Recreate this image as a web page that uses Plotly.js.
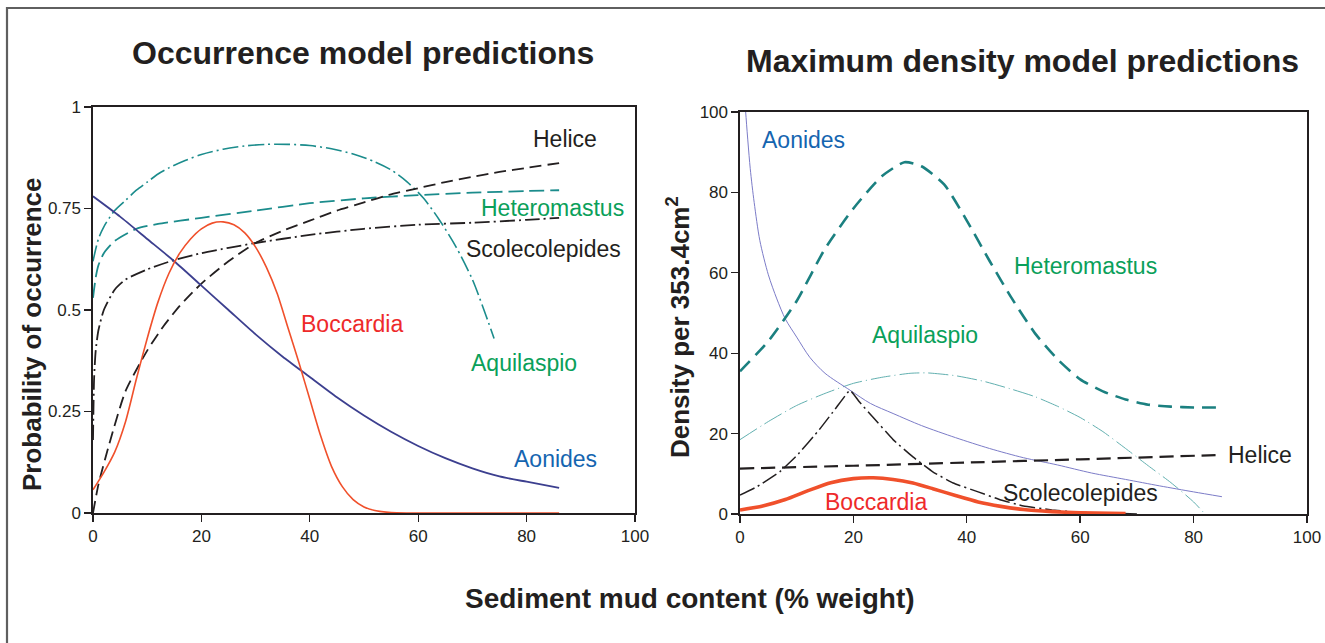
<!DOCTYPE html>
<html>
<head>
<meta charset="utf-8">
<script src="https://cdn.plot.ly/plotly-3.0.1.min.js"></script>
<style>html,body{margin:0;padding:0;background:#fff;}#chart{width:1325px;height:643px;}</style>
</head>
<body>
<div id="chart"></div>
<script>
// ---------- DATA: Occurrence model (left) ----------
const occAonidesX = [0,5,10,15,20,25,30,35,40,45,50,55,60,65,70,75,80,86];
const occAonidesY = [0.78,0.73,0.675,0.62,0.56,0.50,0.44,0.385,0.335,0.285,0.24,0.20,0.165,0.135,0.11,0.09,0.077,0.062];

const occBoccardiaX = [0,2,4,6,8,10,12,14,16,18,20,22,24,26,28,30,32,34,36,38,40,42,44,46,48,50,52,55,58,70,86];
const occBoccardiaY = [0.057,0.1,0.15,0.225,0.33,0.43,0.52,0.59,0.64,0.675,0.70,0.714,0.717,0.71,0.69,0.655,0.605,0.54,0.455,0.37,0.28,0.19,0.115,0.065,0.033,0.015,0.006,0.001,0,0,0];

const occHeliceX = [0,1,3,6,10,13,16,20,25,30,35,40,45,50,55,60,65,70,75,80,86];
const occHeliceY = [0,0.07,0.17,0.30,0.40,0.46,0.51,0.565,0.62,0.665,0.695,0.72,0.745,0.765,0.785,0.80,0.815,0.828,0.84,0.85,0.862];

const occScoleX = [0,0.2,0.5,1,2,4,6,10,15,20,25,30,40,50,60,70,80,86];
const occScoleY = [0.18,0.33,0.40,0.45,0.50,0.55,0.575,0.60,0.623,0.64,0.653,0.665,0.685,0.70,0.71,0.715,0.722,0.727];

const occHeteroX = [0,0.5,1,2,4,8,12,20,30,40,50,60,70,80,86];
const occHeteroY = [0.53,0.58,0.61,0.64,0.67,0.70,0.712,0.727,0.745,0.763,0.775,0.783,0.789,0.793,0.795];

const occAquilaX = [0,1,2,4,6,8,10,12,14,17,20,24,28,32,36,40,44,48,52,55,58,61,64,67,70,72,74];
const occAquilaY = [0.62,0.675,0.705,0.745,0.77,0.795,0.815,0.835,0.85,0.868,0.883,0.896,0.904,0.908,0.908,0.905,0.897,0.884,0.865,0.845,0.815,0.775,0.72,0.655,0.575,0.505,0.43];

// ---------- DATA: Maximum density model (right) ----------
const denAonidesX = [0.7,1,1.8,2.5,3.5,5,6.5,8,10,12.3,15,19.4,23,27,32,38,44,50,56,62,68,74,80,85];
const denAonidesY = [107,100,86,77.5,68,59.5,53.5,48.5,44,39,35,30.8,27.5,25,22,19,16.3,14,12.2,10.2,8.6,7,5.5,4.3];

const denHeteroX = [0,5,10,15,20,25,29,32,36,40,44,48,52,56,60,64,68,72,76,80,85];
const denHeteroY = [35.5,43,53,66,76,84,87.5,86.5,82,73,63,53.5,45,38.5,33.5,30.5,28.5,27.2,26.7,26.5,26.5];

const denAquilaX = [0,5,10,15,20,25,30,33,38,43,48,52,56,60,64,68,72,76,80,82];
const denAquilaY = [18.5,23,27,30,32.5,34,35,35.1,34.4,33,31,29.2,26.8,24,20.5,16.3,12,7.8,3,0];

const denScoleX = [0,3,7,10,14,17,19.4,21,23.5,27,30.5,34,37.6,42,46,50,55,60,65,70];
const denScoleY = [4.7,6.8,10.5,14.5,21,26.5,30.8,28,24,18.5,14.2,10.5,7.7,5.5,3.5,2,1,0.4,0.2,0];

const denHeliceX = [0,20,40,60,85];
const denHeliceY = [11.3,12,12.8,13.6,14.7];

const denBoccardiaX = [0,4,8,12,16,20,23.5,27,30.5,34,38,42,46,50,55,60,68];
const denBoccardiaY = [1,2,3.6,5.8,7.8,8.8,9,8.6,7.7,6.3,4.6,3,1.9,1.1,0.6,0.3,0.1];

// ---------- TEXT ----------
const xTicks = [0,20,40,60,80,100];
const occYTicks = [0,0.25,0.5,0.75,1];
const occYTickText = ["0","0.25","0.5","0.75","1"];
const denYTicks = [0,20,40,60,80,100];

// ---------- STYLE ----------
const W = 1325, H = 643;
const px = v => v / W;
const py = v => 1 - v / H;
const FONT = "Liberation Sans, Arial, Helvetica, sans-serif";
const INK = "#231f20";
const GREEN = "#0aa05a", BLUE = "#1565b0", RED = "#ee2a2a";

function tr(x, y, xa, ya, color, width, dash, smooth) {
  return {x: x, y: y, xaxis: xa, yaxis: ya, type: "scatter", mode: "lines",
    hoverinfo: "skip", showlegend: false,
    line: {color: color, width: width, dash: dash, shape: "spline", smoothing: smooth === undefined ? 0.6 : smooth}};
}

const traces = [
  tr(occAquilaX, occAquilaY, "x", "y", "#1b8c8c", 1.6, "16px,4px,2px,4px", 0.8),
  tr(occHeteroX, occHeteroY, "x", "y", "#1b8c8c", 1.8, "15px,6px"),
  tr(occScoleX, occScoleY, "x", "y", INK, 1.8, "15px,4px,2px,4px"),
  tr(occHeliceX, occHeliceY, "x", "y", INK, 1.8, "12px,6px"),
  tr(occAonidesX, occAonidesY, "x", "y", "#3c3f8f", 1.8, "solid"),
  tr(occBoccardiaX, occBoccardiaY, "x", "y", "#f0502b", 1.6, "solid", 0.7),

  tr(denAquilaX, denAquilaY, "x2", "y2", "#62b0b0", 1.0, "20px,4px,1px,4px"),
  tr(denAonidesX, denAonidesY, "x2", "y2", "#7c7cc8", 1.0, "solid", 0.8),
  tr(denHeteroX, denHeteroY, "x2", "y2", "#1b8080", 2.6, "14px,8px"),
  tr(denHeliceX, denHeliceY, "x2", "y2", INK, 2.2, "14px,7px"),
  tr(denScoleX, denScoleY, "x2", "y2", INK, 1.5, "16px,4px,2px,4px", 0.3),
  tr(denBoccardiaX, denBoccardiaY, "x2", "y2", "#f0502b", 3.6, "solid")
];

const axisCommon = {
  showgrid: false, zeroline: false, showline: true, linecolor: INK, linewidth: 1.6,
  mirror: true, ticks: "outside", ticklen: 7, tickwidth: 1.4, tickcolor: INK,
  tickfont: {family: FONT, size: 17, color: INK}, fixedrange: true
};

function label(text, x, y, color, extra) {
  return Object.assign({text: text, xref: "paper", yref: "paper", x: px(x), y: py(y),
    xanchor: "center", yanchor: "middle", showarrow: false,
    font: {family: FONT, size: 23, color: color}}, extra || {});
}

const annotations = [
  label("<b>Occurrence model predictions</b>", 363, 53, INK, {font: {family: FONT, size: 32, color: INK}}),
  label("<b>Maximum density model predictions</b>", 1022, 61, INK, {font: {family: FONT, size: 32, color: INK}}),
  label("<b>Sediment mud content (% weight)</b>", 690, 598, INK, {font: {family: FONT, size: 28, color: INK}}),
  label("<b>Probability of occurrence</b>", 32, 334, INK, {textangle: -90, font: {family: FONT, size: 26, color: INK}}),
  label("<b>Density per 353.4cm<sup>2</sup></b>", 678, 327, INK, {textangle: -90, font: {family: FONT, size: 26, color: INK}}),

  label("Helice", 565, 139, INK),
  label("Heteromastus", 552, 208, GREEN),
  label("Scolecolepides", 543, 249, INK),
  label("Boccardia", 352, 324, RED),
  label("Aquilaspio", 524, 363, GREEN),
  label("Aonides", 555, 459, BLUE),

  label("Aonides", 803, 140, BLUE),
  label("Heteromastus", 1085, 266, GREEN),
  label("Aquilaspio", 925, 335, GREEN),
  label("Helice", 1260, 455, INK),
  label("Scolecolepides", 1080, 493, INK),
  label("Boccardia", 876, 502, RED)
];

const layout = {
  width: W, height: H, autosize: false,
  margin: {l: 0, r: 0, t: 0, b: 0, pad: 0},
  paper_bgcolor: "#ffffff", plot_bgcolor: "#ffffff",
  showlegend: false,
  xaxis: Object.assign({}, axisCommon, {domain: [px(93), px(635)], range: [0, 100], tickvals: xTicks, anchor: "y"}),
  yaxis: Object.assign({}, axisCommon, {domain: [py(513), py(107)], range: [0, 1], tickvals: occYTicks, ticktext: occYTickText, anchor: "x"}),
  xaxis2: Object.assign({}, axisCommon, {domain: [px(740), px(1307)], range: [0, 100], tickvals: xTicks, anchor: "y2"}),
  yaxis2: Object.assign({}, axisCommon, {domain: [py(514), py(112)], range: [0, 100], tickvals: denYTicks, anchor: "x2"}),
  annotations: annotations,
  shapes: [
    {type: "rect", xref: "paper", yref: "paper", x0: px(7), x1: px(1340), y0: py(660), y1: py(8),
     line: {color: "#5f5f5f", width: 2.2}, fillcolor: "rgba(0,0,0,0)", layer: "below"}
  ]
};

Plotly.newPlot("chart", traces, layout, {staticPlot: true, displayModeBar: false});
</script>
</body>
</html>
